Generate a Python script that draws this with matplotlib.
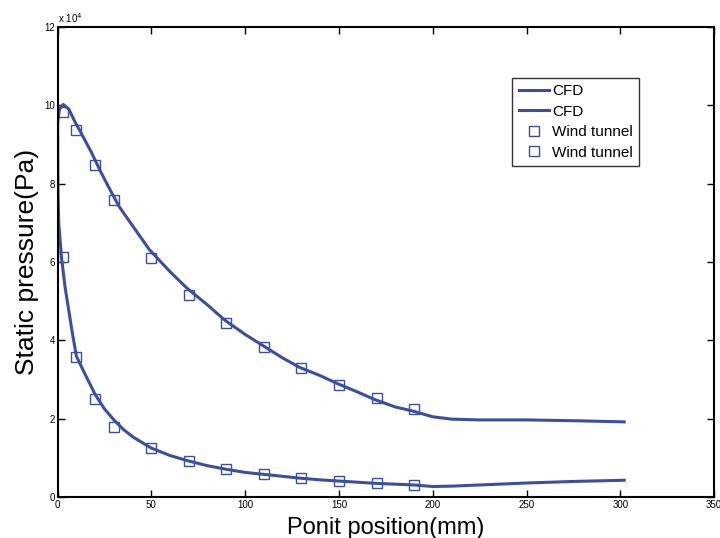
import numpy as np
import matplotlib.pyplot as plt
from matplotlib.ticker import FuncFormatter

plt.rcParams['font.family'] = ['Liberation Sans', 'DejaVu Sans']

# CFD curve, upper branch (x in mm, pressure in Pa)
cfd1_x = [0, 1, 3, 6, 9, 13, 18, 23, 28, 33, 39, 49, 60, 69, 80, 89, 100, 109,
          120, 129, 140, 149, 160, 169, 180, 189, 200, 210, 225, 250, 275, 302]
cfd1_y = [9.55, 9.9, 10.02, 9.9, 9.6, 9.25, 8.8, 8.3, 7.84, 7.4, 6.99, 6.31,
          5.75, 5.33, 4.9, 4.52, 4.15, 3.88, 3.55, 3.31, 3.1, 2.9, 2.68, 2.49,
          2.3, 2.2, 2.05, 1.99, 1.97, 1.97, 1.95, 1.92]

# CFD curve, lower branch
cfd2_x = [0, 0.2, 0.6, 2, 4, 6, 8, 10, 14, 20, 25, 30, 35, 40, 50, 60, 70, 80,
          90, 100, 110, 120, 130, 140, 150, 160, 170, 180, 190, 200, 210, 225,
          250, 275, 302]
cfd2_y = [9.55, 7.8, 7.0, 6.15, 5.35, 4.75, 4.15, 3.6, 3.2, 2.62, 2.25, 1.97,
          1.73, 1.54, 1.25, 1.06, 0.92, 0.8, 0.71, 0.63, 0.58, 0.53, 0.48,
          0.44, 0.41, 0.38, 0.35, 0.33, 0.31, 0.27, 0.28, 0.31, 0.36, 0.40,
          0.43]

# wind tunnel measurements
wt_x = [3, 10, 20, 30, 50, 70, 90, 110, 130, 150, 170, 190]
wt1_y = [9.84, 9.38, 8.47, 7.57, 6.10, 5.16, 4.44, 3.82, 3.29, 2.85, 2.52, 2.25]
wt2_y = [6.12, 3.57, 2.51, 1.78, 1.25, 0.91, 0.71, 0.58, 0.48, 0.42, 0.36, 0.32]

scale = 1e4
col = '#3a4fa2'
narrow = ['Liberation Sans Narrow', 'Liberation Sans', 'DejaVu Sans']

fig = plt.figure(figsize=(7.2, 5.38), dpi=100)
ax = fig.add_axes([0.080, 0.076, 0.912, 0.874])

ax.plot(cfd1_x, np.array(cfd1_y) * scale, color=col, lw=2.2, label='CFD')
ax.plot(cfd2_x, np.array(cfd2_y) * scale, color=col, lw=2.2, label='CFD')
ax.plot(wt_x, np.array(wt1_y) * scale, 's', mfc='none', mec=col, ms=7, mew=1,
        label='Wind tunnel')
ax.plot(wt_x, np.array(wt2_y) * scale, 's', mfc='none', mec=col, ms=7, mew=1,
        label='Wind tunnel')

ax.set_xlim(0, 350)
ax.set_ylim(0, 12e4)
ax.set_xticks(np.arange(0, 351, 50))
ax.set_yticks(np.arange(0, 12.1e4, 2e4))
ax.yaxis.set_major_formatter(FuncFormatter(lambda v, p: '%g' % (v / scale)))
ax.tick_params(direction='in', top=True, right=True, labelsize=7, length=5,
               width=1, pad=2)
for lab in ax.get_xticklabels() + ax.get_yticklabels():
    lab.set_family(narrow)
for s in ax.spines.values():
    s.set_linewidth(1.5)

ax.text(0.0, 1.005, 'x 10$^4$', transform=ax.transAxes, fontsize=7,
        ha='left', va='bottom', family=narrow)

ax.set_xlabel('Ponit position(mm)', fontsize=17, labelpad=5)
ax.set_ylabel('Static pressure(Pa)', fontsize=19, labelpad=4)

leg = ax.legend(loc='upper right', bbox_to_anchor=(0.8855, 0.891),
                fontsize=11, frameon=True, fancybox=False, handlelength=2.0,
                handletextpad=0.2, borderpad=0.4, labelspacing=0.42,
                borderaxespad=0)
leg.get_frame().set_edgecolor('black')
leg.get_frame().set_linewidth(1.0)

fig.savefig('out.png', dpi=100)
